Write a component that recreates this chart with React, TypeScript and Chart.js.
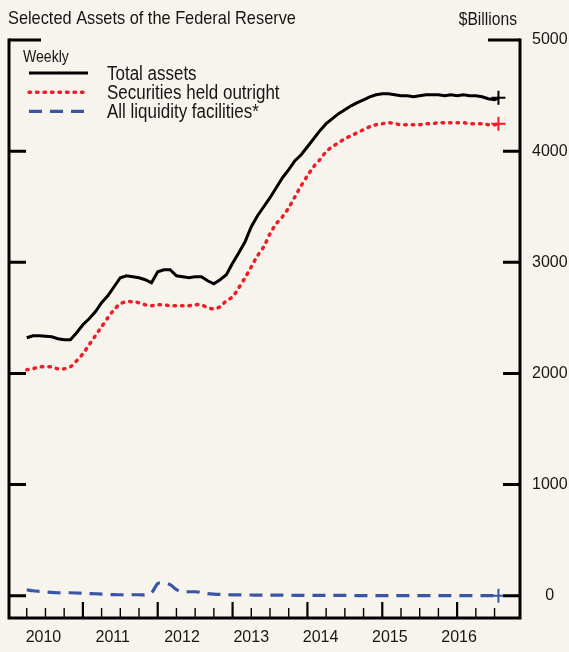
import React, { useEffect, useRef } from 'react';
import { Chart, registerables } from 'chart.js';

Chart.register(...registerables);

const FONT = "'Liberation Sans', Arial, sans-serif";
const BG = '#f7f4ee';
const INK = '#161616';
const BLACK = '#000000';
const RED = '#ee1c25';
const BLUE = '#3a55a6';

const chartTitle = 'Selected Assets of the Federal Reserve';
const unitLabel = '$Billions';
const legendHeading = 'Weekly';
const seriesNames = ['Total assets', 'Securities held outright', 'All liquidity facilities*'];

const dates = [
  '2010-04', '2010-05', '2010-06', '2010-07', '2010-08', '2010-09', '2010-10', '2010-11', '2010-12',
  '2011-01', '2011-02', '2011-03', '2011-04', '2011-05', '2011-06', '2011-07', '2011-08', '2011-09', '2011-10', '2011-11', '2011-12',
  '2012-01', '2012-02', '2012-03', '2012-04', '2012-05', '2012-06', '2012-07', '2012-08', '2012-09', '2012-10', '2012-11', '2012-12',
  '2013-01', '2013-02', '2013-03', '2013-04', '2013-05', '2013-06', '2013-07', '2013-08', '2013-09', '2013-10', '2013-11', '2013-12',
  '2014-01', '2014-02', '2014-03', '2014-04', '2014-05', '2014-06', '2014-07', '2014-08', '2014-09', '2014-10', '2014-11', '2014-12',
  '2015-01', '2015-02', '2015-03', '2015-04', '2015-05', '2015-06', '2015-07', '2015-08', '2015-09', '2015-10', '2015-11', '2015-12',
  '2016-01', '2016-02', '2016-03', '2016-04', '2016-05', '2016-06', '2016-07', '2016-07-20',
];

const totalAssets = [
  2321, 2339, 2339, 2335, 2330, 2312, 2303, 2303, 2366,
  2438, 2492, 2555, 2636, 2699, 2780, 2861, 2879, 2870, 2861, 2843, 2816,
  2915, 2933, 2933, 2879, 2870, 2861, 2870, 2870, 2834, 2807, 2843, 2888,
  2992, 3086, 3185, 3320, 3419, 3500, 3581, 3671, 3761, 3833, 3914, 3968,
  4040, 4112, 4184, 4247, 4292, 4337, 4373, 4408, 4436, 4462, 4489, 4507,
  4516, 4516, 4507, 4498, 4498, 4489, 4498, 4507, 4507, 4507, 4498, 4507,
  4498, 4507, 4498, 4498, 4489, 4471, 4462, 4480,
];

const securitiesHeld = [
  2033, 2042, 2060, 2060, 2060, 2042, 2042, 2060, 2114,
  2177, 2258, 2339, 2420, 2501, 2573, 2627, 2645, 2645, 2636, 2618, 2609,
  2618, 2618, 2609, 2609, 2609, 2609, 2618, 2618, 2591, 2582, 2600, 2654,
  2690, 2771, 2861, 2960, 3059, 3140, 3257, 3347, 3410, 3491, 3590, 3689,
  3779, 3860, 3923, 3995, 4040, 4076, 4112, 4139, 4166, 4193, 4220, 4238,
  4247, 4256, 4247, 4238, 4238, 4238, 4238, 4247, 4247, 4256, 4256, 4256,
  4256, 4256, 4247, 4247, 4247, 4238, 4238, 4247,
];

const liquidityFacilities = [
  54, 45, 40, 36, 30, 27, 27, 27, 25,
  22, 20, 18, 15, 12, 10, 9, 9, 9, 9, 9, 25,
  110, 117, 100, 55, 36, 36, 36, 30, 20, 15, 12, 10,
  8, 8, 7, 7, 6, 6, 5, 5, 5, 5, 4, 4,
  4, 4, 3, 3, 3, 3, 3, 3, 2, 2, 2, 2,
  2, 2, 2, 2, 2, 2, 2, 1, 1, 1, 1, 1,
  1, 1, 1, 1, 1, 1, 1, 1,
];

const yearLabels = ['2010', '2011', '2012', '2013', '2014', '2015', '2016'];
const yTickValues = [0, 1000, 2000, 3000, 4000, 5000];

function toYear(s: string): number {
  const [y, m, d] = s.split('-').map(Number);
  return y + (m - 1) / 12 + (d ? (d - 1) / 365 : 0);
}

const seriesStyles = [
  { color: BLACK, width: 3, dash: [] as number[], cap: 'butt' as CanvasLineCap },
  { color: RED, width: 3.5, dash: [1.5, 6], cap: 'round' as CanvasLineCap },
  { color: BLUE, width: 3.2, dash: [13, 8], cap: 'butt' as CanvasLineCap },
];

// draw condensed text: Liberation Sans squeezed horizontally
function condText(ctx: CanvasRenderingContext2D, text: string, x: number, y: number, size: number, sx: number, align: 'left' | 'right') {
  ctx.save();
  ctx.font = `${size}px ${FONT}`;
  ctx.textBaseline = 'alphabetic';
  ctx.textAlign = align;
  ctx.translate(x, y);
  ctx.scale(sx, 1);
  ctx.fillText(text, 0, 0);
  ctx.restore();
}

const framePlugin = {
  id: 'frame',
  afterDraw(chart: any) {
    const { ctx, chartArea: ca, scales } = chart;
    const xs = scales.x;
    const ys = scales.y;
    ctx.save();
    ctx.strokeStyle = BLACK;
    ctx.lineWidth = 3;
    ctx.lineCap = 'butt';
    ctx.lineJoin = 'miter';
    // axis frame: left, bottom, right
    ctx.beginPath();
    ctx.moveTo(ca.left, ca.top - 1.5);
    ctx.lineTo(ca.left, ca.bottom);
    ctx.lineTo(ca.right, ca.bottom);
    ctx.lineTo(ca.right, ca.top - 1.5);
    ctx.stroke();
    // y ticks (inward, both sides)
    yTickValues.forEach((v, i) => {
      const py = ys.getPixelForValue(v);
      const len = i === yTickValues.length - 1 ? 32 : 17;
      ctx.beginPath();
      ctx.moveTo(ca.left, py);
      ctx.lineTo(ca.left + len, py);
      ctx.moveTo(ca.right - len, py);
      ctx.lineTo(ca.right, py);
      ctx.stroke();
    });
    // x quarter ticks (inward)
    for (let q = Math.ceil(xs.min * 4) / 4; q <= xs.max; q += 0.25) {
      const px = xs.getPixelForValue(q);
      if (px < ca.left + 4 || px > ca.right - 9) continue;
      const major = Math.abs(q - Math.round(q)) < 1e-6;
      ctx.lineWidth = major ? 2.2 : 1.4;
      ctx.beginPath();
      ctx.moveTo(px, ca.bottom);
      ctx.lineTo(px, ca.bottom - (major ? 16 : 10));
      ctx.stroke();
    }
    // titles
    ctx.fillStyle = INK;
    condText(ctx, chartTitle, 8, 24, 19, 0.86, 'left');
    condText(ctx, unitLabel, 517, 25, 18, 0.87, 'right');
    // legend
    condText(ctx, legendHeading, 23, 62, 16, 0.88, 'left');
    seriesNames.forEach((name, i) => {
      const st = seriesStyles[i];
      const ly = 73 + i * 19.2;
      ctx.strokeStyle = st.color;
      ctx.lineWidth = st.width;
      ctx.lineCap = st.cap;
      ctx.setLineDash(st.dash);
      ctx.beginPath();
      ctx.moveTo(29, ly);
      ctx.lineTo(88, ly);
      ctx.stroke();
      ctx.setLineDash([]);
      condText(ctx, name, 107, ly + 6.8, 19.5, 0.87, 'left');
    });
    ctx.restore();
  },
};

export default function App() {
  const ref = useRef<HTMLCanvasElement>(null);
  useEffect(() => {
    document.body.style.background = BG;
    const xVals = dates.map(toYear);
    const pts = (arr: number[]) => arr.map((v, i) => ({ x: xVals[i], y: v }));
    const last = (arr: number[]) => [{ x: xVals[arr.length - 1], y: arr[arr.length - 1] }];
    const series = [totalAssets, securitiesHeld, liquidityFacilities];
    const lineSets = series.map((arr, i) => ({
      label: seriesNames[i],
      data: pts(arr),
      borderColor: seriesStyles[i].color,
      borderWidth: seriesStyles[i].width,
      borderDash: seriesStyles[i].dash,
      borderCapStyle: seriesStyles[i].cap,
      pointRadius: 0,
      tension: i === 0 ? 0 : 0.3,
      fill: false,
      xAxisID: 'x',
      yAxisID: 'y',
    }));
    const markerSets = series.map((arr, i) => ({
      label: seriesNames[i] + ' (latest)',
      data: last(arr),
      showLine: false,
      pointStyle: 'cross',
      pointRadius: 7,
      pointBorderWidth: 2,
      pointBorderColor: seriesStyles[i].color,
      pointBackgroundColor: seriesStyles[i].color,
      xAxisID: 'x',
      yAxisID: 'y',
    }));
    const chart = new Chart(ref.current as HTMLCanvasElement, {
      type: 'line',
      data: { datasets: [...lineSets, ...markerSets] as any },
      options: {
        animation: false,
        responsive: false,
        devicePixelRatio: 1,
        layout: { padding: { left: 8, right: 0, top: 40, bottom: 0 } },
        plugins: { legend: { display: false }, tooltip: { enabled: false }, title: { display: false } },
        scales: {
          x: { type: 'linear', min: 2010.013, max: 2016.84, display: false },
          xLabels: {
            type: 'linear',
            position: 'bottom',
            min: 2009.503,
            max: 2016.879,
            grid: { display: false, drawTicks: false },
            border: { display: false },
            ticks: {
              color: INK,
              font: { family: FONT, size: 16 },
              padding: 10,
              maxRotation: 0,
              autoSkip: false,
              callback: (v: any) => String(v),
            },
            afterBuildTicks: (s: any) => {
              s.ticks = yearLabels.map((y) => ({ value: Number(y) }));
            },
            afterFit: (s: any) => {
              s.height = 34;
            },
          },
          y: {
            type: 'linear',
            position: 'right',
            min: -200,
            max: 5000,
            grid: { display: false, drawTicks: false },
            border: { display: false },
            ticks: {
              color: INK,
              font: { family: FONT, size: 16 },
              crossAlign: 'center',
              padding: 12,
              callback: (v: any) => String(v),
            },
            afterBuildTicks: (s: any) => {
              s.ticks = yTickValues.map((v) => ({ value: v }));
            },
            afterFit: (s: any) => {
              s.width = 49;
            },
          },
        } as any,
      },
      plugins: [framePlugin],
    });
    return () => chart.destroy();
  }, []);
  return (
    <div style={{ position: 'absolute', left: 0, top: 0, width: 569, height: 652, background: BG }}>
      <canvas ref={ref} width={569} height={652} style={{ display: 'block', width: 569, height: 652 }} />
    </div>
  );
}
